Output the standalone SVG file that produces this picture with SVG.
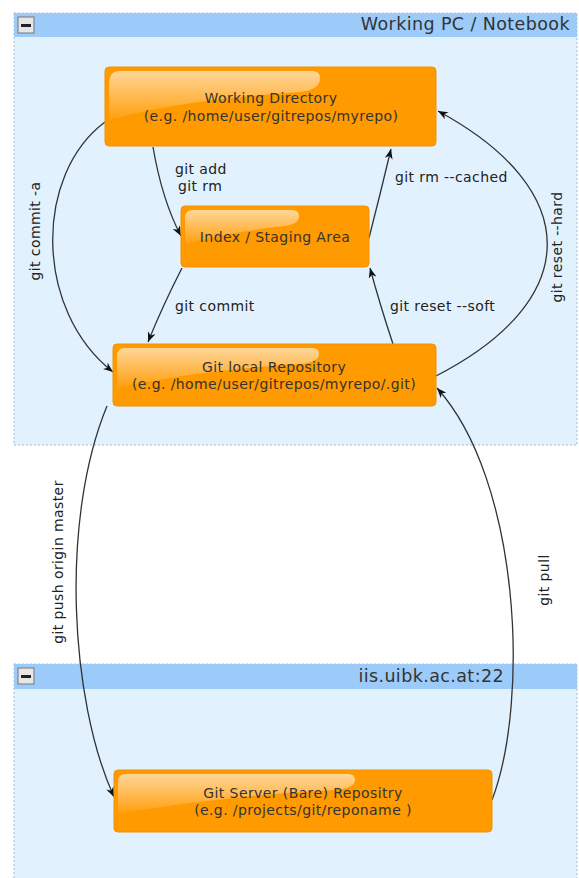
<svg xmlns="http://www.w3.org/2000/svg" width="579" height="878" viewBox="0 0 579 878">
<style>
.body{fill:#e1f1fd;stroke:#a9b9cc;stroke-width:1;stroke-dasharray:2,2}
.hdr{fill:#9ccbfa}
.title{font-family:"DejaVu Sans",sans-serif;font-size:17.5px;letter-spacing:0.4px;fill:#333;text-anchor:end}
.btn{fill:#e6e6e6;stroke:#777;stroke-width:1}
.box{fill:#ff9a00;stroke:#f29000;stroke-width:1}
.gloss{fill:url(#g)}
.t{font-family:"DejaVu Sans",sans-serif;font-size:14px;letter-spacing:0.4px;fill:#333;text-anchor:middle}
.lbl{font-family:"DejaVu Sans",sans-serif;font-size:14px;letter-spacing:0.4px;fill:#222}
.c{fill:none;stroke:#333;stroke-width:1.3;marker-end:url(#a)}
</style>
<defs>
<linearGradient id="g" x1="0" y1="0" x2="0" y2="1">
<stop offset="0" stop-color="#fff" stop-opacity="0.6"/>
<stop offset="1" stop-color="#fff" stop-opacity="0.05"/>
</linearGradient>
<marker id="a" viewBox="0 0 10 8" refX="10" refY="4" markerWidth="10" markerHeight="8" markerUnits="userSpaceOnUse" orient="auto">
<path d="M0,0 L10,4 L0,8 L3,4 Z" fill="#111"/>
</marker>
</defs>
<rect width="579" height="878" fill="#fff"/>
<g id="pc">
<rect class="body" x="14" y="13" width="563" height="432"/>
<rect class="hdr" x="14" y="13" width="563" height="24"/>
<rect class="btn" x="18" y="17" width="16" height="16"/>
<rect x="21" y="24" width="10" height="3" fill="#222"/>
<text class="title" x="570" y="30">Working PC / Notebook</text>
</g>
<g id="server">
<rect class="body" x="14" y="664" width="563" height="220"/>
<rect class="hdr" x="14" y="664" width="563" height="25"/>
<rect class="btn" x="18" y="668" width="16" height="16"/>
<rect x="21" y="675" width="10" height="3" fill="#222"/>
<text class="title" x="504" y="682">iis.uibk.ac.at:22</text>
</g>
<g id="connectors">
<path class="c" d="M153,147 Q162,200 181,236"/>
<path class="c" d="M369,238 Q380,195 391,149"/>
<path class="c" d="M182,268 Q163,305 148,342"/>
<path class="c" d="M393,344 Q380,305 370,268"/>
<path class="c" d="M105,122 C34,175 34,310 113,372"/>
<path class="c" d="M436,376 C584,300 584,190 438,111"/>
<path class="c" d="M107,406 C60,520 70,700 114,797"/>
<path class="c" d="M492,800 C530,700 520,480 437,388"/>
<text class="lbl" x="175" y="174">git add</text>
<text class="lbl" x="178" y="191">git rm</text>
<text class="lbl" x="395" y="182">git rm --cached</text>
<text class="lbl" x="175" y="311">git commit</text>
<text class="lbl" x="390" y="311">git reset --soft</text>
<text class="lbl" transform="translate(40,231) rotate(-90)" text-anchor="middle">git commit -a</text>
<text class="lbl" transform="translate(562,247) rotate(-90)" text-anchor="middle">git reset --hard</text>
<text class="lbl" transform="translate(63,562) rotate(-90)" text-anchor="middle">git push origin master</text>
<text class="lbl" transform="translate(549,580) rotate(-90)" text-anchor="middle">git pull</text>
</g>
<g id="wd">
<rect class="box" x="105" y="67" width="331" height="79" rx="4"/>
<path class="gloss" d="M109,84 Q109,71 120,71 L312,71 Q320,71 320,78 Q320,90 300,92 Q180,100 109,120 Z"/>
<text class="t" x="271" y="103">Working Directory</text>
<text class="t" x="271" y="121">(e.g.  /home/user/gitrepos/myrepo)</text>
</g>
<g id="index">
<rect class="box" x="181" y="206" width="188" height="61" rx="4"/>
<path class="gloss" d="M185,218 Q185,210 193,210 L292,210 Q299,210 299,216 Q299,224 285,226 Q230,232 185,244 Z"/>
<text class="t" x="275" y="242">Index / Staging Area</text>
</g>
<g id="local">
<rect class="box" x="113" y="344" width="323" height="62" rx="4"/>
<path class="gloss" d="M117,356 Q117,348 125,348 L312,348 Q319,348 319,354 Q319,362 300,364 Q200,370 117,388 Z"/>
<text class="t" x="274" y="372">Git local Repository</text>
<text class="t" x="274" y="389">(e.g.  /home/user/gitrepos/myrepo/.git)</text>
</g>
<g id="bare">
<rect class="box" x="114" y="770" width="378" height="62" rx="4"/>
<path class="gloss" d="M118,782 Q118,774 126,774 L348,774 Q355,774 355,780 Q355,788 335,790 Q220,796 118,814 Z"/>
<text class="t" x="303" y="798">Git Server (Bare) Repositry</text>
<text class="t" x="303" y="815">(e.g.  /projects/git/reponame )</text>
</g>
</svg>
